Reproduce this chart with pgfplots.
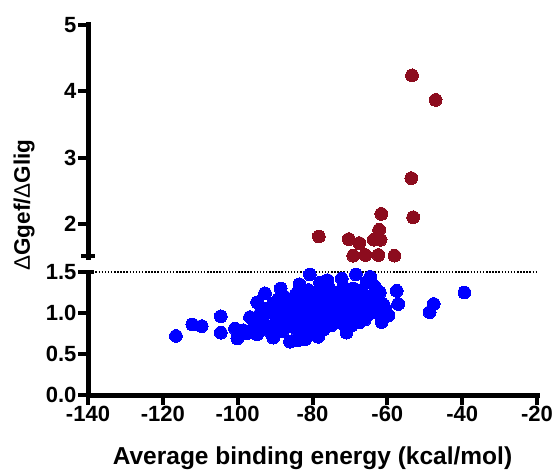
\documentclass[border=0pt]{standalone}
\usepackage{pgfplots}
\pgfplotsset{compat=1.18}
\usepackage{fontspec}
\setmainfont{Liberation Sans}
\definecolor{prismblue}{RGB}{0,0,255}
\definecolor{prismred}{RGB}{140,12,30}
\pgfplotsset{
  prism/.style={
    scale only axis, width=449pt, xmin=-140, xmax=-20,
    axis lines=left,
    axis line style={-, line width=5pt, black},
    tick align=outside, major tick length=8pt,
    tick style={black, line width=4pt},
    tick label style={font=\fontsize{22}{26}\selectfont\bfseries},
    /pgf/number format/assume math mode=true,
    clip=false,
  }
}
\begin{document}
\begin{tikzpicture}
\path[use as bounding box] (0pt,0pt) rectangle (554pt,-473pt);
% lower axis
\begin{axis}[prism, at={(88pt,-395pt)}, anchor=south west, height=123pt,
  ymin=0, ymax=1.5,
  xtick={-140,-120,-100,-80,-60,-40,-20},
  ytick={0,0.5,1,1.5},
  yticklabel style={/pgf/number format/.cd, fixed, fixed zerofill, precision=1},
  xlabel={Average binding energy (kcal/mol)},
  xlabel style={font=\fontsize{24.5}{28}\selectfont\bfseries, yshift=-18pt},
]
\addplot[black, line width=2.2pt, dash pattern=on 1.5pt off 1.6pt] coordinates {(-138,1.5) (-20,1.5)};
\addplot[only marks, mark=*, mark size=6.4pt, color=prismblue, mark options={draw=prismblue, fill=prismblue, line width=0pt}] table {
x y
-116.5 0.72
-112.1 0.86
-109.6 0.84
-104.5 0.96
-104.5 0.76
-100.7 0.81
-100.1 0.69
-98.5 0.79
-97.6 0.75
-96.7 0.95
-94.8 0.74
-94.8 1.13
-92.7 1.24
-94.0 0.99
-91.8 1.01
-91.8 0.79
-89.1 1.17
-88.7 1.05
-89.6 0.93
-86.9 0.83
-85.6 1.09
-86.0 0.65
-83.8 0.67
-84.2 1.24
-83.3 0.95
-82.5 0.81
-81.1 1.28
-80.7 1.47
-80.7 1.05
-79.3 1.17
-78.5 0.71
-78.0 1.37
-78.9 0.91
-76.2 1.13
-75.8 1.32
-76.2 0.97
-74.9 0.85
-73.5 1.22
-72.2 1.42
-71.8 1.32
-72.7 1.05
-70.9 0.76
-70.5 1.13
-69.1 1.30
-68.4 1.47
-68.6 1.01
-67.3 0.89
-66.0 1.17
-64.6 1.44
-63.3 1.32
-63.8 1.07
-62.9 1.14
-61.5 0.89
-59.7 0.97
-57.5 1.27
-57.1 1.11
-48.7 1.01
-47.6 1.11
-39.4 1.25
-93.0 0.88
-90.5 1.12
-90.0 0.85
-88.0 0.78
-87.5 1.20
-87.0 0.95
-86.0 1.02
-85.0 0.88
-85.0 1.15
-84.0 0.78
-83.0 1.05
-82.5 1.18
-82.0 0.90
-81.5 1.00
-81.0 0.75
-80.0 1.12
-80.0 0.95
-79.5 0.85
-79.0 1.25
-78.5 1.05
-78.0 0.98
-77.5 1.20
-77.0 0.88
-77.0 0.80
-76.5 1.05
-75.5 1.00
-75.0 1.15
-74.5 0.92
-74.0 1.25
-74.0 1.08
-73.0 0.95
-72.5 0.88
-72.0 1.18
-71.5 1.00
-71.0 1.25
-70.5 0.92
-70.0 1.08
-69.5 0.85
-69.0 1.20
-68.0 1.10
-67.5 0.98
-67.0 1.28
-66.5 1.05
-66.0 0.92
-65.5 1.38
-65.0 1.12
-64.5 1.00
-64.0 1.22
-62.5 1.00
-62.0 1.25
-61.0 1.10
-60.5 1.05
-90.5 0.70
-92.5 1.05
-95.5 0.85
-88.5 1.30
-83.5 1.35
-76.0 1.40
-82.0 0.68
};
\end{axis}
% upper axis
\begin{axis}[prism, at={(88pt,-257pt)}, anchor=south west, height=232pt,
  ymin=1.5, ymax=5,
  axis x line=none, xtick=\empty,
  ytick={2,3,4,5},
]
\addplot[only marks, mark=*, mark size=6.4pt, color=prismred, mark options={draw=prismred, fill=prismred, line width=0pt}] table {
x y
-53.4 4.24
-47.1 3.87
-53.6 2.69
-53.1 2.10
-61.6 2.15
-62.2 1.91
-78.3 1.81
-70.3 1.77
-67.5 1.71
-63.6 1.76
-61.8 1.76
-69.1 1.52
-65.9 1.53
-62.4 1.53
-58.1 1.52
};
\end{axis}
% heavy axis frame drawn over the axes (Prism style)
\begin{scope}[black, line width=5pt]
\draw[line cap=rect] (88pt,-25pt) -- (88pt,-257pt);
\draw[line cap=rect] (88pt,-272pt) -- (88pt,-395pt) -- (537pt,-395pt);
\end{scope}
\begin{scope}[black, line width=4pt]
\foreach \px in {88,162.83,237.67,312.5,387.33,462.17,537} {\draw (\px pt,-395pt) -- ++(0pt,-10pt);}
\foreach \py in {-395,-354,-313,-272} {\draw (88pt,\py pt) -- ++(-10pt,0pt);}
\foreach \py in {-25,-91.3,-157.6,-223.9} {\draw (88pt,\py pt) -- ++(-10pt,0pt);}
\draw (78pt,-272pt) -- (94pt,-272pt);
\end{scope}
\draw[black, line width=3.5pt] (81pt,-256pt) -- (95pt,-256pt);
\node[rotate=90, font=\fontsize{22.5}{26}\selectfont\bfseries] at (24pt,-205pt) {{\mdseries Δ}Ggef/{\mdseries Δ}Glig};
\end{tikzpicture}
\end{document}
